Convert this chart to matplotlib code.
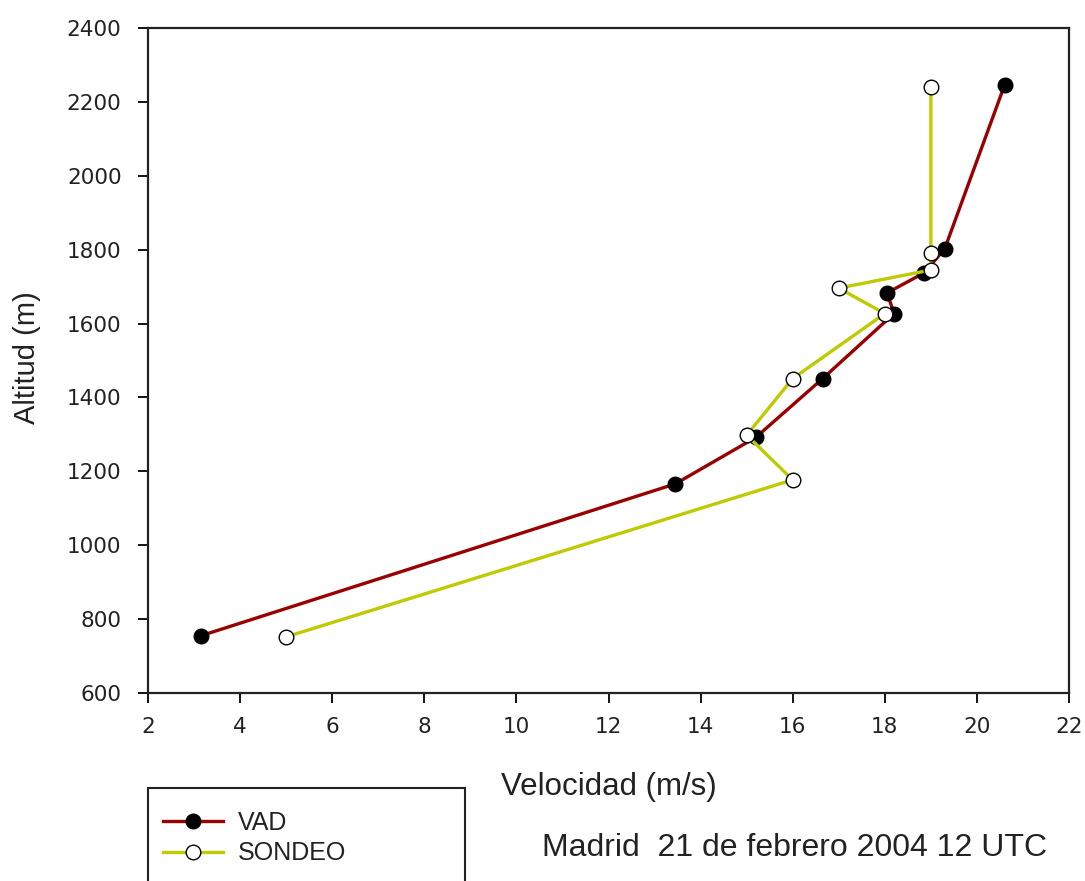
import matplotlib
matplotlib.use("Agg")
import matplotlib.pyplot as plt
from matplotlib.patches import Rectangle

plt.rcParams["font.family"] = ["Liberation Sans", "DejaVu Sans"]

# VAD wind profile
vad_speed = [3.15, 13.45, 15.2, 16.65, 18.2, 18.05, 18.85, 19.3, 20.6]
vad_alt = [755, 1166, 1292, 1451, 1627, 1683, 1737, 1802, 2245]

# radiosonde profile
sondeo_speed = [5, 16, 15, 16, 18, 17, 19, 19, 19]
sondeo_alt = [752, 1177, 1298, 1451, 1627, 1696, 1745, 1790, 2240]

x_ticks = list(range(2, 23, 2))
y_ticks = list(range(600, 2401, 200))

fig = plt.figure(figsize=(10.85, 8.81), dpi=100)
ax = fig.add_axes([148 / 1085, 1 - 693 / 881, (1069 - 148) / 1085, (693 - 28) / 881])

ax.plot(vad_speed, vad_alt, color="#990000", lw=2.4, marker="o", ms=10.5,
        mfc="black", mec="black", label="VAD", zorder=3)
ax.plot(sondeo_speed, sondeo_alt, color="#BDCB00", lw=2.4, marker="o", ms=10.5,
        mfc="white", mec="black", mew=1.0, label="SONDEO", zorder=4)

ax.set_xlim(2, 22)
ax.set_ylim(600, 2400)
ax.set_xticks(x_ticks)
ax.set_yticks(y_ticks)
tick_font = {"family": "DejaVu Sans", "size": 15.5}
ax.set_xticklabels([str(v) for v in x_ticks], fontdict=tick_font, color="#222222")
ax.set_yticklabels([str(v) for v in y_ticks], fontdict=tick_font, color="#222222")
ax.tick_params(direction="out", length=7, width=1.3)
ax.tick_params(axis="x", pad=10)
ax.tick_params(axis="y", pad=12)
for s in ax.spines.values():
    s.set_linewidth(1.6)
    s.set_color("#222222")

ax.set_xlabel("Velocidad (m/s)", fontsize=22.5, color="#222222")
ax.xaxis.set_label_coords(0.5, -0.1414)
ax.xaxis.label.set_va("center")
ax.set_ylabel("Altitud (m)", fontsize=21, color="#222222")
ax.yaxis.set_label_coords(-0.131, 0.504)
ax.yaxis.label.set_va("center")

# legend box, cut off by the bottom edge
fig.patches.append(Rectangle((148 / 1085, -0.05), (465 - 148) / 1085, 0.05 + (881 - 788) / 881,
                             transform=fig.transFigure, fill=False, edgecolor="#222222",
                             lw=1.5))
fig.legend(loc="upper left", bbox_to_anchor=(163 / 1085, 1 - 811 / 881), frameon=False,
           prop={"size": 18}, handlelength=2.4, handletextpad=0.6, labelspacing=0.25,
           borderaxespad=0, borderpad=0, labelcolor="#222222")

fig.text(542 / 1085, 1 - 848 / 881, "Madrid  21 de febrero 2004 12 UTC",
         fontsize=23, va="center", ha="left", color="#222222")

fig.savefig("out.png", dpi=100)
